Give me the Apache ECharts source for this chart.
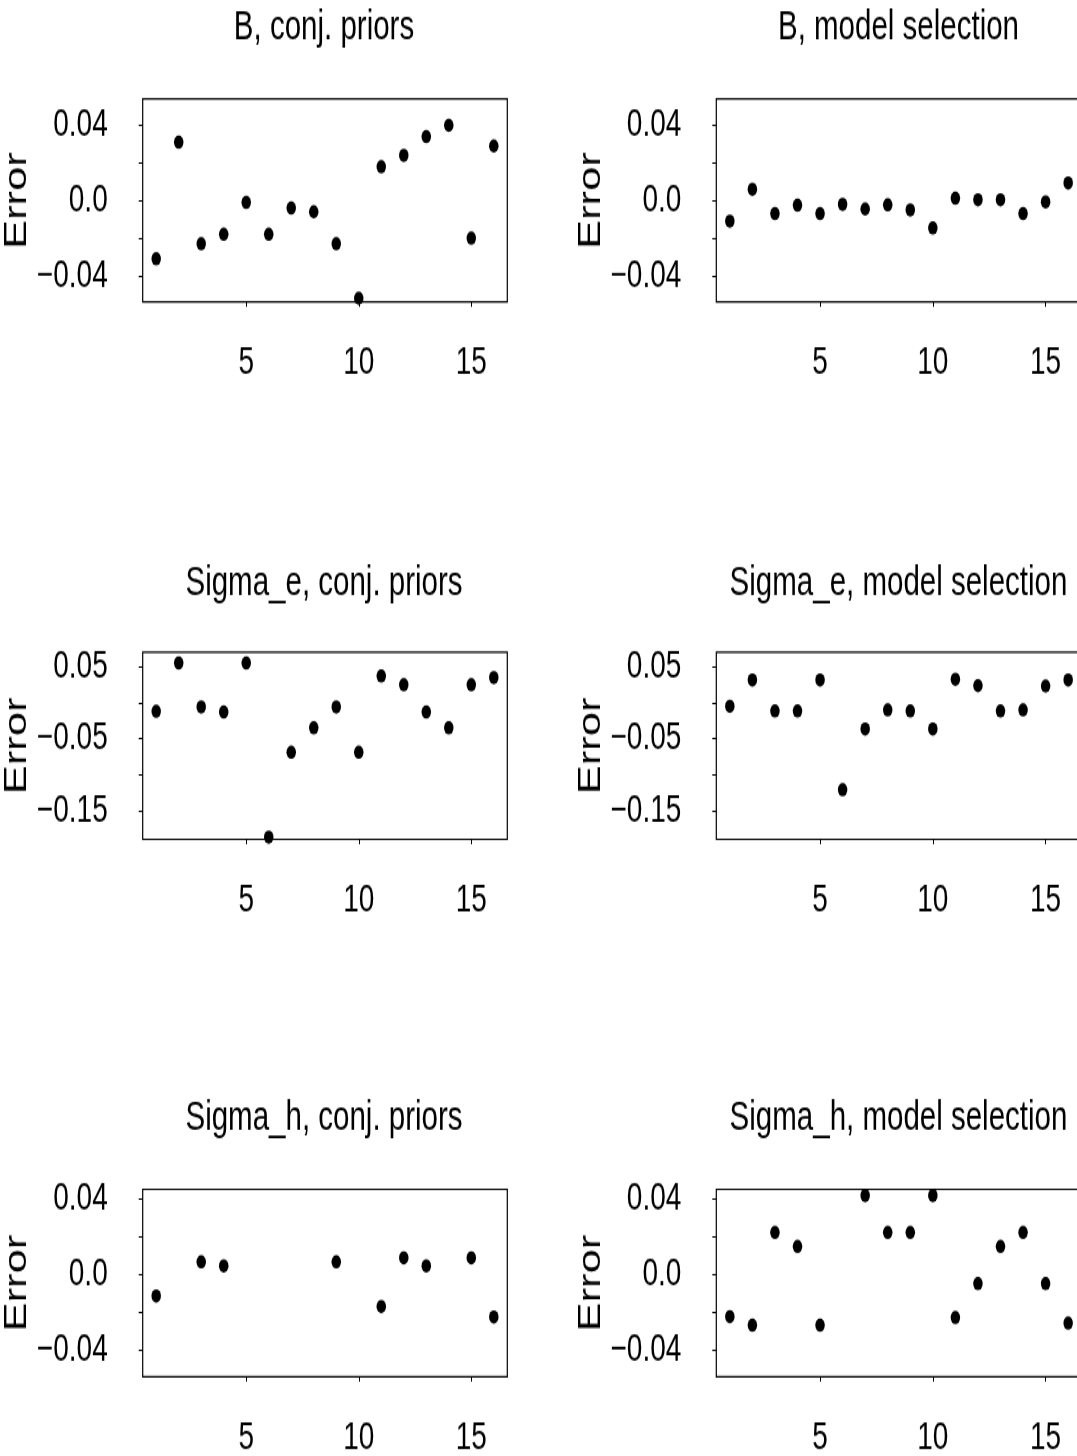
<!DOCTYPE html>
<html>
<head>
<meta charset="utf-8">
<script src="https://cdn.jsdelivr.net/npm/echarts@6/dist/echarts.min.js"></script>
<style>
  html, body { margin: 0; padding: 0; background: #fff; }
  #page { width: 1077px; height: 1456px; overflow: hidden; }
  /* the reference is stretched vertically, so the chart is drawn flat and scaled */
  #chart { width: 1077px; height: 1040px; transform: scaleY(1.4); transform-origin: 0 0; }
</style>
</head>
<body>
<div id="page"><div id="chart"></div></div>
<script>
// x positions (run index)
const runs = [1, 2, 3, 4, 5, 6, 7, 8, 9, 10, 11, 12, 13, 14, 15, 16];

// errors (null = not drawn)
const bConj   = [-0.031, 0.031, -0.023, -0.018, -0.001, -0.018, -0.004, -0.006, -0.023, -0.052, 0.018, 0.024, 0.034, 0.040, -0.020, 0.029];
const bModel  = [-0.011, 0.006, -0.007, -0.0025, -0.007, -0.002, -0.0045, -0.0023, -0.005, -0.0146, 0.0012, 0.0004, 0.0004, -0.007, -0.0007, 0.0093];
const seConj  = [-0.012, 0.055, -0.006, -0.013, 0.055, -0.187, -0.069, -0.035, -0.006, -0.069, 0.037, 0.025, -0.013, -0.035, 0.025, 0.035];
const seModel = [-0.005, 0.0315, -0.0116, -0.0116, 0.0315, -0.121, -0.0366, -0.0102, -0.0116, -0.0366, 0.0324, 0.0236, -0.0116, -0.0102, 0.0231, 0.0315];
const shConj  = [-0.0113, null, 0.0067, 0.0046, null, null, null, null, 0.0067, null, -0.0169, 0.0088, 0.0046, null, 0.0088, -0.0224];
const shModel = [-0.0222, -0.0268, 0.0222, 0.0148, -0.0268, null, 0.0417, 0.0222, 0.0222, 0.0417, -0.0227, -0.0048, 0.0148, 0.0222, -0.0048, -0.0257];

// tick marks and labelled ticks
const xTicks = [5, 10, 15];
const bTicks = [-0.04, -0.02, 0, 0.02, 0.04];
const bLabels = [-0.04, 0, 0.04];
const seTicks = [-0.15, -0.1, -0.05, 0, 0.05];
const seLabels = [-0.15, -0.05, 0.05];

const titles = [
  "B, conj. priors", "B, model selection",
  "Sigma_e, conj. priors", "Sigma_e, model selection",
  "Sigma_h, conj. priors", "Sigma_h, model selection"
];

const FONT = "'Liberation Sans', Arial, Helvetica, sans-serif";

// panel layout (chart space, before the vertical stretch)
const cols = [{ left: 142.7, width: 364.6, mid: 324 }, { left: 716.3, width: 365.4, mid: 898.5 }];
const rows = [
  { top: 70.7, height: 145, titleTop: 5, yMin: -0.054, yMax: 0.054, ticks: bTicks, labels: bLabels, data: [bConj, bModel] },
  { top: 465.9, height: 133.6, titleTop: 401.5, yMin: -0.19, yMax: 0.07, ticks: seTicks, labels: seLabels, data: [seConj, seModel] },
  { top: 849.5, height: 133.9, titleTop: 783.5, yMin: -0.054, yMax: 0.045, ticks: bTicks, labels: bLabels, data: [shConj, shModel] }
];

function fmt(v) {
  let s = Math.abs(v) < 1e-9 ? "0.0" : v.toFixed(2);
  return s.replace("-", "\u2212");
}

let option = { animation: false, backgroundColor: "#fff", title: [], grid: [], xAxis: [], yAxis: [], series: [] };

rows.forEach((r, ri) => {
  cols.forEach((c, ci) => {
    const k = ri * 2 + ci;
    option.title.push({
      text: titles[k],
      left: c.mid,
      top: r.titleTop,
      textAlign: "center",
      padding: 0,
      textStyle: { fontFamily: FONT, fontSize: 29.5, fontWeight: "normal", color: "#000" }
    });
    option.grid.push({
      left: c.left, top: r.top, width: c.width, height: r.height,
      show: true, borderColor: "#000", borderWidth: 1.2, backgroundColor: "transparent",
      containLabel: false, outerBoundsMode: "none"
    });
    option.xAxis.push({
      type: "value", gridIndex: k, min: 0.4, max: 16.6,
      splitLine: { show: false },
      axisLine: { show: false, onZero: false },
      axisTick: { show: true, length: 3.5, customValues: xTicks, lineStyle: { color: "#000" } },
      axisLabel: { customValues: xTicks, margin: 30, color: "#000", fontFamily: FONT, fontSize: 28 }
    });
    option.yAxis.push({
      type: "value", gridIndex: k, min: r.yMin, max: r.yMax,
      name: "Error", nameLocation: "middle", nameGap: 98,
      nameTextStyle: { fontFamily: FONT, fontSize: 31, color: "#000" },
      splitLine: { show: false },
      axisLine: { show: false, onZero: false },
      axisTick: { show: true, length: 4, customValues: r.ticks, lineStyle: { color: "#000" } },
      axisLabel: { customValues: r.labels, margin: 35, color: "#000", fontFamily: FONT, fontSize: 28, formatter: fmt }
    });
    const vals = r.data[ci];
    option.series.push({
      type: "scatter", xAxisIndex: k, yAxisIndex: k,
      symbol: "circle", symbolSize: 9.5,
      itemStyle: { color: "#000", opacity: 1 },
      data: runs.map((x, i) => [x, vals[i]]).filter(p => p[1] !== null)
    });
  });
});

const myChart = echarts.init(document.getElementById("chart"), null, { renderer: "canvas", width: 1077, height: 1040 });
myChart.setOption(option);
</script>
</body>
</html>
